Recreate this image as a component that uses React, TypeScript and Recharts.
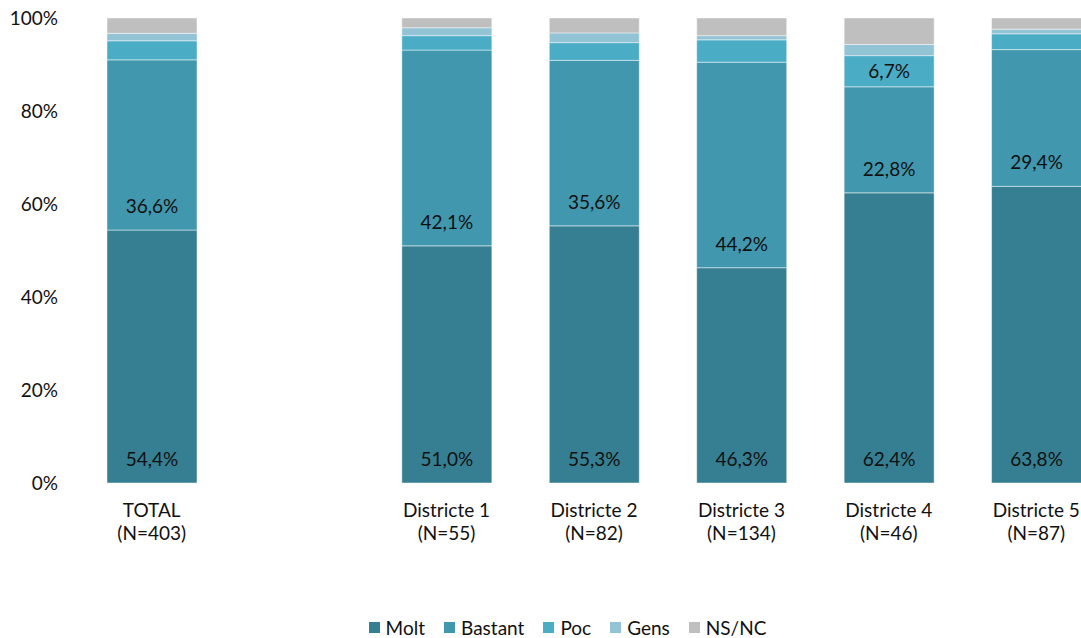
import React from "react";
import { BarChart, Bar, XAxis, YAxis, Legend, LabelList } from "recharts";

const categories = [
  "TOTAL\n(N=403)",
  " ",
  "Districte 1\n(N=55)",
  "Districte 2\n(N=82)",
  "Districte 3\n(N=134)",
  "Districte 4\n(N=46)",
  "Districte 5\n(N=87)",
];
const molt = [54.4, null, 51.0, 55.3, 46.3, 62.4, 63.8];
const bastant = [36.6, null, 42.1, 35.6, 44.2, 22.8, 29.4];
const poc = [4.1, null, 3.1, 3.8, 4.8, 6.7, 3.4];
const gens = [1.6, null, 1.7, 2.1, 0.9, 2.4, 1.0];
const nsnc = [3.3, null, 2.1, 3.2, 3.8, 5.7, 2.4];
const pocLabels = [null, null, null, null, null, 6.7, null];
const yTicks = [0, 20, 40, 60, 80, 100];

const seriesNames = ["Molt", "Bastant", "Poc", "Gens", "NS/NC"];
const colors = ["#367F92", "#4197AE", "#4BACC6", "#92C4D6", "#BFBFBF"];

const data = categories.map((c, i) => ({
  cat: c,
  Molt: molt[i],
  Bastant: bastant[i],
  Poc: poc[i],
  Gens: gens[i],
  "NS/NC": nsnc[i],
  pocLabel: pocLabels[i],
}));

const FONT = "Lato, 'Open Sans', sans-serif";
const FS = 19;
const fmt = (v: number) => v.toFixed(1).replace(".", ",") + "%";

const BottomLabel = (props: any) => {
  const { x, y, width, height, value } = props;
  if (value == null) return null;
  return (
    <text
      x={x + width / 2}
      y={y + height - 17}
      textAnchor="middle"
      fontFamily={FONT}
      fontSize={FS}
      fill="#111"
    >
      {fmt(value)}
    </text>
  );
};

const CenterLabel = (props: any) => {
  const { x, y, width, height, value } = props;
  if (value == null) return null;
  return (
    <text
      x={x + width / 2}
      y={y + height / 2 + 7}
      textAnchor="middle"
      fontFamily={FONT}
      fontSize={FS}
      fill="#111"
    >
      {fmt(value)}
    </text>
  );
};

const XTick = (props: any) => {
  const { x, payload } = props;
  const lines = String(payload.value).trim().split("\n");
  if (!lines[0]) return null;
  return (
    <text textAnchor="middle" fontFamily={FONT} fontSize={FS} fill="#111">
      {lines.map((l: string, i: number) => (
        <tspan key={i} x={x} y={517 + i * 23}>
          {l}
        </tspan>
      ))}
    </text>
  );
};

const YTick = (props: any) => {
  const { y, payload } = props;
  return (
    <text
      x={58}
      y={y + 7}
      textAnchor="end"
      fontFamily={FONT}
      fontSize={FS}
      fill="#111"
    >
      {payload.value + "%"}
    </text>
  );
};

const LegendContent = () => (
  <div
    style={{
      display: "flex",
      justifyContent: "center",
      alignItems: "center",
      height: 20,
      fontFamily: FONT,
      fontSize: FS,
      color: "#111",
    }}
  >
    {seriesNames.map((n, i) => (
      <div
        key={n}
        style={{ display: "flex", alignItems: "center", marginRight: i < seriesNames.length - 1 ? 19 : 0 }}
      >
        <span
          style={{
            display: "inline-block",
            width: 11,
            height: 11,
            background: colors[i],
            marginRight: 6,
          }}
        />
        <span>{n}</span>
      </div>
    ))}
  </div>
);

export default function App() {
  return (
    <div
      style={{
        position: "absolute",
        left: 0,
        top: 0,
        width: 1081,
        height: 638,
        overflow: "hidden",
        background: "#fff",
      }}
    >
      <BarChart
        width={1110}
        height={638}
        data={data}
        margin={{ top: 18, right: 0, left: 0, bottom: 0 }}
        barSize={90}
      >
        <XAxis
          dataKey="cat"
          axisLine={false}
          tickLine={false}
          height={135}
          interval={0}
          tick={<XTick />}
        />
        <YAxis
          width={78}
          domain={[0, 100]}
          ticks={yTicks}
          axisLine={false}
          tickLine={false}
          tick={<YTick />}
          interval={0}
        />
        <Legend
          height={21}
          verticalAlign="bottom"
          content={<LegendContent />}
          wrapperStyle={{ left: 0, top: 617, bottom: "auto", width: 1135, height: 20 }}
        />
        {seriesNames.map((n, i) => (
          <Bar
            key={n}
            dataKey={n}
            stackId="a"
            fill={colors[i]}
            stroke="rgba(255,255,255,0.45)"
            strokeWidth={1}
            isAnimationActive={false}
          >
            {i < 2 && <LabelList dataKey={n} content={<BottomLabel />} />}
            {i === 2 && <LabelList dataKey="pocLabel" content={<CenterLabel />} />}
          </Bar>
        ))}
      </BarChart>
    </div>
  );
}
